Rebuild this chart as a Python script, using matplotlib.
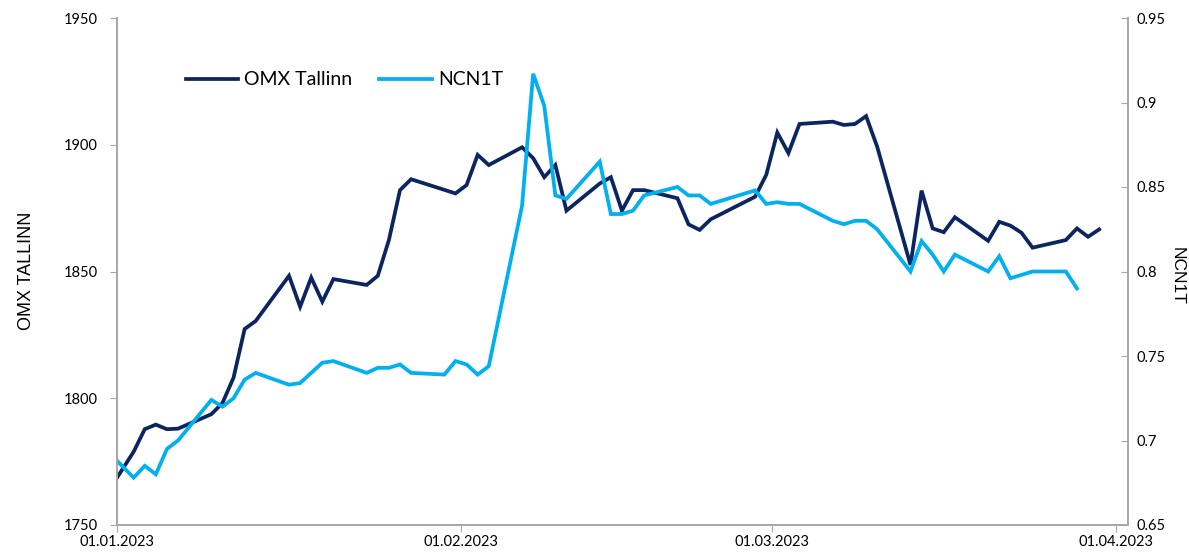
import matplotlib
matplotlib.use('Agg')
from matplotlib import pyplot as plt
import matplotlib.dates as mdates
from matplotlib.ticker import FuncFormatter
import pandas as pd

# trading days (Dec 30 point sits left of the axis and gets clipped)
dates = ['2022-12-30',
         '2023-01-02', '2023-01-03', '2023-01-04', '2023-01-05', '2023-01-06',
         '2023-01-09', '2023-01-10', '2023-01-11', '2023-01-12', '2023-01-13',
         '2023-01-16', '2023-01-17', '2023-01-18', '2023-01-19', '2023-01-20',
         '2023-01-23', '2023-01-24', '2023-01-25', '2023-01-26', '2023-01-27',
         '2023-01-30', '2023-01-31', '2023-02-01', '2023-02-02', '2023-02-03',
         '2023-02-06', '2023-02-07', '2023-02-08', '2023-02-09', '2023-02-10',
         '2023-02-13', '2023-02-14', '2023-02-15', '2023-02-16', '2023-02-17',
         '2023-02-20', '2023-02-21', '2023-02-22', '2023-02-23',
         '2023-02-27', '2023-02-28', '2023-03-01', '2023-03-02', '2023-03-03',
         '2023-03-06', '2023-03-07', '2023-03-08', '2023-03-09', '2023-03-10',
         '2023-03-13', '2023-03-14', '2023-03-15', '2023-03-16', '2023-03-17',
         '2023-03-20', '2023-03-21', '2023-03-22', '2023-03-23', '2023-03-24',
         '2023-03-27', '2023-03-28', '2023-03-29', '2023-03-30']

omx = [1758.4,
       1778.9, 1787.8, 1789.6, 1787.8, 1788.0,
       1793.7, 1798.1, 1808.1, 1827.3, 1830.5,
       1848.3, 1836.1, 1847.6, 1838.1, 1847.0,
       1844.7, 1848.3, 1862.4, 1882.1, 1886.4,
       1882.2, 1880.8, 1884.1, 1896.0, 1892.0,
       1899.0, 1894.7, 1887.2, 1892.0, 1874.0,
       1884.7, 1887.2, 1874.0, 1882.1, 1882.1,
       1878.9, 1868.6, 1866.4, 1870.6,
       1879.5, 1888.1, 1904.8, 1896.7, 1908.2,
       1909.1, 1907.8, 1908.2, 1911.3, 1899.2,
       1852.6, 1881.9, 1867.0, 1865.5, 1871.4,
       1862.1, 1869.6, 1868.1, 1865.3, 1859.4,
       1862.4, 1867.0, 1863.7, 1866.6]

ncn = [0.698,
       0.678, 0.685, 0.680, 0.695, 0.700,
       0.724, 0.720, 0.725, 0.736, 0.740,
       0.733, 0.734, 0.740, 0.746, 0.747,
       0.740, 0.743, 0.743, 0.745, 0.740,
       0.739, 0.747, 0.745, 0.739, 0.744,
       0.839, 0.917, 0.898, 0.845, 0.843,
       0.865, 0.834, 0.834, 0.836, 0.845,
       0.850, 0.845, 0.845, 0.840,
       0.848, 0.840, 0.841, 0.840, 0.840,
       0.830, 0.828, 0.830, 0.830, 0.825,
       0.800, 0.818, 0.810, 0.800, 0.810,
       0.800, 0.809, 0.796, 0.798, 0.800,
       0.800, 0.790, None, None]

df = pd.DataFrame({'date': pd.to_datetime(dates), 'omx': omx, 'ncn': ncn})
# Excel date axis puts each point in the middle of its day
df['x'] = df['date'] + pd.Timedelta(hours=12)
ncn_df = df.dropna(subset=['ncn'])

navy = '#0b2560'
light = '#00b0f0'
grey = '#a6a6a6'

plt.rcParams['font.family'] = ['Lato', 'DejaVu Sans']

fig = plt.figure(figsize=(11.89, 5.54), dpi=100)
ax = fig.add_axes([117/1189, 1-525/554, (1128-117)/1189, (525-18)/554])
ax2 = ax.twinx()

l1, = ax.plot(df['x'], df['omx'], color=navy, linewidth=2.7, label='OMX Tallinn',
              solid_joinstyle='miter')
l2, = ax2.plot(ncn_df['x'], ncn_df['ncn'], color=light, linewidth=2.7, label='NCN1T',
               solid_joinstyle='miter')

ax.set_xlim(pd.Timestamp('2023-01-01'), pd.Timestamp('2023-01-01') + pd.Timedelta(days=91.1))
ax.set_ylim(1750, 1950)
ax2.set_ylim(0.65, 0.95)
ax.set_yticks([1750, 1800, 1850, 1900, 1950])
ax2.set_yticks([0.65, 0.7, 0.75, 0.8, 0.85, 0.9, 0.95])
ax2.yaxis.set_major_formatter(FuncFormatter(lambda v, p: '%g' % round(v, 2)))

ax.set_xticks(pd.to_datetime(['2023-01-01', '2023-02-01', '2023-03-01', '2023-04-01']))
ax.xaxis.set_major_formatter(mdates.DateFormatter('%d.%m.%Y'))

for a in (ax, ax2):
    a.spines['top'].set_visible(False)
    for s in ('left', 'right', 'bottom'):
        a.spines[s].set_color(grey)
        a.spines[s].set_linewidth(1.2)
ax.tick_params(axis='y', direction='out', length=5, color=grey, labelsize=10.5, pad=9)
ax.tick_params(axis='x', direction='out', length=5, color=grey, labelsize=10.5, pad=2)
ax2.tick_params(axis='y', direction='in', length=5, color=grey, labelsize=10.5, pad=6)

fig.text(27/1189, 1-271/554, 'OMX TALLINN', rotation=90, ha='center', va='center',
         fontsize=13, family=['Liberation Sans'])
fig.text(1177/1189, 1-276/554, 'NCN1T', rotation=270, ha='center', va='center',
         fontsize=12.5, family=['Liberation Sans'])

ax2.legend(handles=[l1, l2], loc='center left', bbox_to_anchor=(0.068, 0.878),
           frameon=False, ncol=2, fontsize=14, handlelength=2.7, handletextpad=0.3,
           columnspacing=1.4, borderpad=0, borderaxespad=0)

plt.savefig('out.png', dpi=100)
plt.close()
